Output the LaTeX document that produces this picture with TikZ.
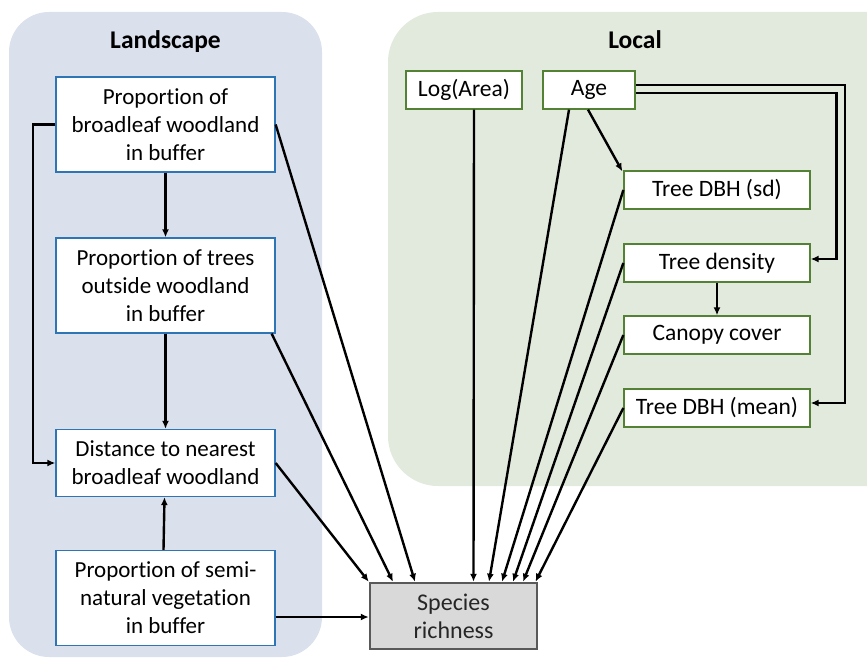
\documentclass[tikz,border=0pt]{standalone}
\usepackage{fontspec}
\setmainfont{Carlito}[Ligatures=NoCommon]
\usetikzlibrary{arrows.meta}
\definecolor{landbg}{HTML}{DAE0EC}
\definecolor{localbg}{HTML}{E2E9DD}
\definecolor{bluebd}{HTML}{2E75B6}
\definecolor{greenbd}{HTML}{548235}
\definecolor{greybd}{HTML}{595959}
\definecolor{greyfill}{HTML}{D9D9D9}
\begin{document}
\begin{tikzpicture}[x=1pt,y=-1pt,
  bbox/.style={draw=bluebd,fill=white,line width=1.3pt,minimum width=219pt,align=center,
    font=\fontsize{23}{28}\selectfont,inner sep=0pt},
  gbox/.style={draw=greenbd,fill=white,line width=1.3pt,minimum height=38pt,
    font=\fontsize{23.5}{28}\selectfont,inner sep=0pt},
  srbox/.style={draw=greybd,fill=greyfill,line width=2.5pt,minimum width=167pt,minimum height=66pt,
    align=center,font=\fontsize{24}{28}\selectfont,inner sep=0pt,text=black!85},
  title/.style={font=\fontsize{25.5}{30}\selectfont\bfseries},
  conn/.style={line width=2.4pt,-{Latex[length=8pt,width=7pt]}}]
\clip (0,0) rectangle (867,658);
% panels
\fill[landbg,rounded corners=40pt] (9,12) rectangle (322,657);
\fill[localbg,rounded corners=50pt] (388,12) rectangle (930,486);
\node[title] (tland) at (165.5,42) {Landscape};
\node[title] (tloc) at (635,40) {Local};
% landscape nodes
\node[bbox,minimum height=95pt] (b1) at (165.5,124.5) {Proportion of\\broadleaf woodland\\in buffer};
\node[bbox,minimum height=95pt] (b2) at (165.5,285.5) {Proportion of trees\\outside woodland\\in buffer};
\node[bbox,minimum height=67pt] (b3) at (165.5,463) {Distance to nearest\\broadleaf woodland};
\node[bbox,minimum height=95pt] (b4) at (165.5,598) {Proportion of semi-\\natural vegetation\\in buffer};
% species richness
\node[srbox] (sr) at (453.5,616) {Species\\richness};
% local nodes
\node[gbox,minimum width=116pt] (logarea) at (464,90) {Log(Area)};
\node[gbox,minimum width=92pt] (age) at (589,90) {Age};
\node[gbox,minimum width=186pt] (dbhsd) at (717,190) {Tree DBH (sd)};
\node[gbox,minimum width=186pt] (dens) at (717,263) {Tree density};
\node[gbox,minimum width=186pt] (canopy) at (717,335) {Canopy cover};
\node[gbox,minimum width=186pt] (dbhmean) at (717,408) {Tree DBH (mean)};
% landscape connectors
\draw[conn] (b1.south) -- (b2.north);
\draw[conn] (b2.south) -- (b3.north);
\draw[conn] ([xshift=-2pt]b4.north) -- ([xshift=-1pt]b3.south);
\draw[conn] (b1.west) -- (33,124.5) |- (b3.west);
\draw[conn] (b1.east) -- ([xshift=-38.5pt]sr.north);
\draw[conn] ([xshift=-4pt]b2.south east) -- ([xshift=-60.5pt]sr.north);
\draw[conn] (b3.east) -- (sr.north west);
\draw[conn] ([yshift=-19pt]b4.east) -- ([yshift=-1pt]sr.west);
% local connectors
\draw[conn] ([xshift=10pt]logarea.south) -- ([xshift=20pt]sr.north);
\draw[conn] ([xshift=-20pt]age.south) -- ([xshift=35.5pt]sr.north);
\draw[conn] ([xshift=-1pt]age.south) -- ([xshift=-1pt,yshift=-1pt]dbhsd.north west);
\draw[conn] (dbhsd.west) -- ([xshift=48.5pt]sr.north);
\draw[conn] (dens.west) -- ([xshift=59.5pt]sr.north);
\draw[conn] (canopy.west) -- ([xshift=69.5pt]sr.north);
\draw[conn] (dbhmean.west) -- ([xshift=82pt]sr.north);
\draw[conn] (dens.south) -- (canopy.north);
\draw[conn] ([yshift=-3pt]age.east) -- (836.5,93) |- ([yshift=4pt]dens.east);
\draw[conn] ([yshift=5pt]age.east) -- (845,85) |- ([yshift=5pt]dbhmean.east);
\end{tikzpicture}
\end{document}
